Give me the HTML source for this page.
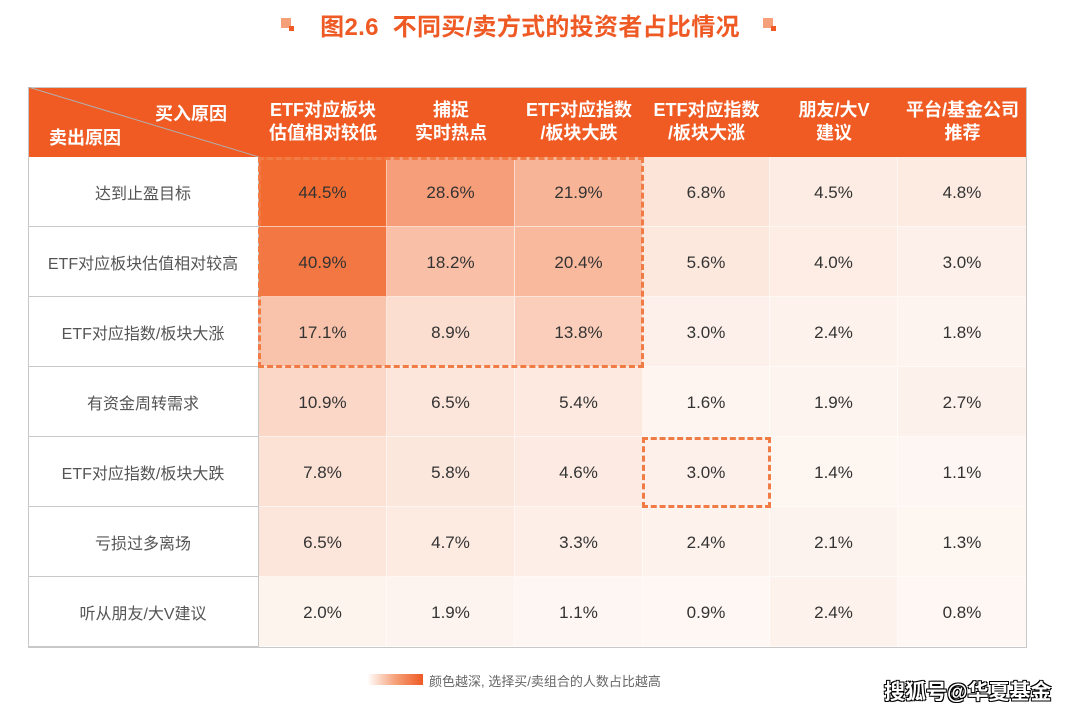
<!DOCTYPE html>
<html><head><meta charset="utf-8"><style>
body{margin:0;width:1080px;height:714px;background:#fff;position:relative;overflow:hidden;font-family:"Liberation Sans","Noto Sans CJK SC",sans-serif}
.title{position:absolute;top:7px;left:0;width:1060px;text-align:center;font-size:24px;font-weight:bold;color:#ef5a24;letter-spacing:0.3px}
.sq{position:absolute;top:18px;width:10px;height:10px;background:#f6a07a}
.sq:after{content:"";position:absolute;right:-3px;bottom:-3px;width:5px;height:5px;background:#ef5a24}
.c{position:absolute;display:flex;align-items:center;justify-content:center;text-align:center;box-sizing:border-box}
.h{color:#fff;font-weight:bold;font-size:18px;line-height:23px;background:#f05a23}
.v{font-size:17px;color:#333;padding-top:3px;border-right:1px solid rgba(255,255,255,0.6);border-bottom:1px solid rgba(255,255,255,0.6)}
.r{font-size:16px;color:#555;background:#fff;border-bottom:1px solid #c8c8c8;border-right:1px solid #c8c8c8}
.dash{position:absolute;border:3px dashed #f07b45;box-sizing:border-box}
</style></head><body>
<div class="sq" style="left:281px"></div>
<div class="title">图2.6&nbsp; 不同买/卖方式的投资者占比情况</div>
<div class="sq" style="left:763px"></div>
<div id="t"></div>
<div style="position:absolute;left:28px;top:87px;width:999px;height:561px;border:1px solid #c8c8c8;box-sizing:border-box;pointer-events:none"></div>
<svg style="position:absolute;left:28px;top:87px" width="232" height="71"><line x1="0" y1="0" x2="231" y2="70" stroke="#b0b0b0" stroke-width="1"/></svg>
<div style="position:absolute;left:155px;top:100px;color:#fff;font-weight:bold;font-size:18px">买入原因</div>
<div style="position:absolute;left:49px;top:124px;color:#fff;font-weight:bold;font-size:18px">卖出原因</div>
<div class="dash" style="left:258px;top:157px;width:386px;height:211px"></div>
<div class="dash" style="left:642px;top:437px;width:129px;height:71px"></div>
<div style="position:absolute;left:367px;top:674px;width:56px;height:11px;background:linear-gradient(to right,#fff,#f5a27a 50%,#ef5a24)"></div>
<div style="position:absolute;left:429px;top:671px;font-size:13px;color:#666">颜色越深, 选择买/卖组合的人数占比越高</div>
<div style="position:absolute;left:884px;top:676px;font-size:21px;font-weight:bold;color:#fff;text-shadow:-1px -1px 0 #000,1px -1px 0 #000,-1px 1px 0 #000,1px 1px 0 #000">搜狐号@华夏基金</div>
<script>
var cols=[28,259,387,515,643,770,898,1027];
var rows=[87,157,227,297,367,437,507,577,647];
var hd=["ETF对应板块<br>估值相对较低","捕捉<br>实时热点","ETF对应指数<br>/板块大跌","ETF对应指数<br>/板块大涨","朋友/大V<br>建议","平台/基金公司<br>推荐"];
var rn=["达到止盈目标","ETF对应板块估值相对较高","ETF对应指数/板块大涨","有资金周转需求","ETF对应指数/板块大跌","亏损过多离场","听从朋友/大V建议"];
var d=[[44.5,28.6,21.9,6.8,4.5,4.8],[40.9,18.2,20.4,5.6,4.0,3.0],[17.1,8.9,13.8,3.0,2.4,1.8],[10.9,6.5,5.4,1.6,1.9,2.7],[7.8,5.8,4.6,3.0,1.4,1.1],[6.5,4.7,3.3,2.4,2.1,1.3],[2.0,1.9,1.1,0.9,2.4,0.8]];
var h='';
h+='<div class="c h" style="left:28px;top:87px;width:231px;height:70px"></div>';
for(var j=0;j<6;j++)h+='<div class="c h" style="left:'+cols[j+1]+'px;top:87px;width:'+(cols[j+2]-cols[j+1])+'px;height:70px">'+hd[j]+'</div>';
var a=[254,250,247],b=[242,106,48];
for(var i=0;i<7;i++){
 h+='<div class="c r" style="left:28px;top:'+rows[i+1]+'px;width:231px;height:'+(rows[i+2]-rows[i+1])+'px">'+rn[i]+'</div>';
 for(var j=0;j<6;j++){
  var t=Math.min(1,d[i][j]/45*1.0);
  var c=a.map(function(x,k){return Math.round(x+(b[k]-x)*t)});
  h+='<div class="c v" style="left:'+cols[j+1]+'px;top:'+rows[i+1]+'px;width:'+(cols[j+2]-cols[j+1])+'px;height:'+(rows[i+2]-rows[i+1])+'px;background:rgb('+c+')">'+d[i][j].toFixed(1)+'%</div>';
 }
}
document.getElementById('t').innerHTML=h;
</script>
</body></html>
